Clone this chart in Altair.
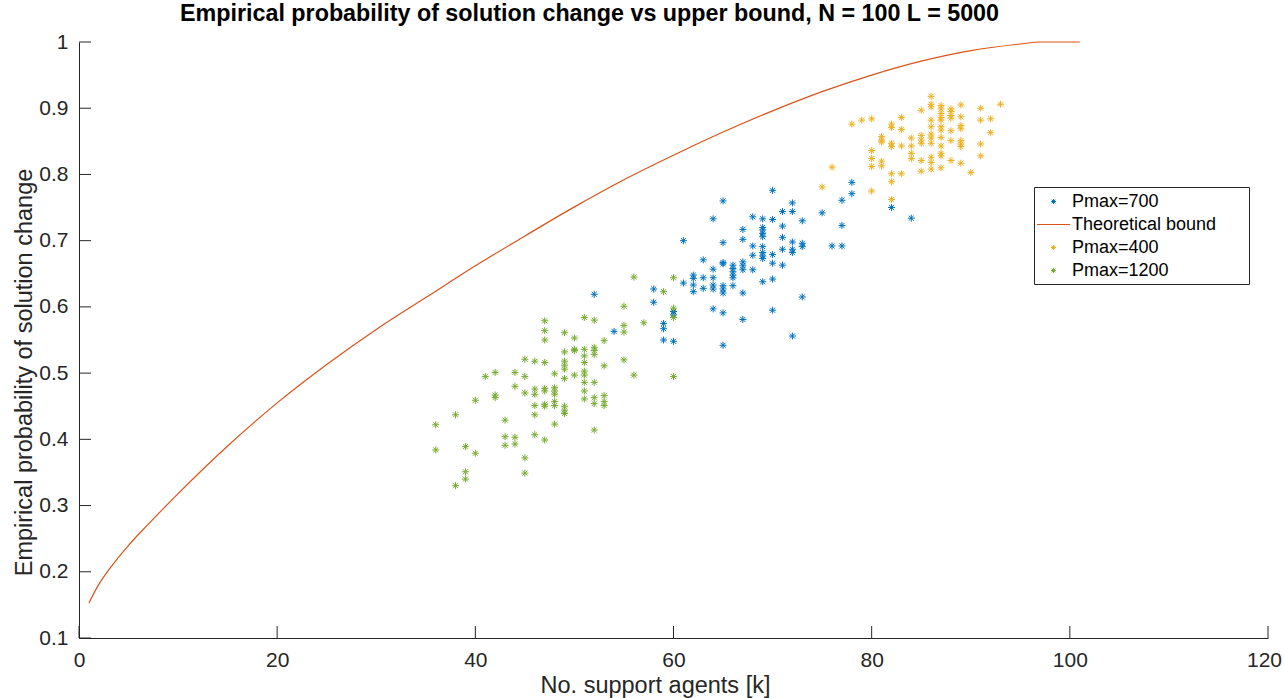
import altair as alt
import pandas as pd

# ---- data ----
series_order = ["Pmax=700", "Theoretical bound", "Pmax=400", "Pmax=1200"]
series_colors = ["#0072BD", "#D95319", "#EDB120", "#77AC30"]

# Pmax=700 (blue): x -> list of y
blue_pts = {
    52: [0.619], 54: [0.563], 58: [0.627, 0.607], 59: [0.575, 0.567, 0.550],
    60: [0.593, 0.588, 0.548], 61: [0.700, 0.636], 62: [0.648, 0.643, 0.633, 0.623],
    63: [0.671, 0.644, 0.628], 64: [0.733, 0.657, 0.644, 0.633, 0.627, 0.597],
    65: [0.760, 0.697, 0.667, 0.665, 0.632, 0.627, 0.621, 0.591, 0.542],
    66: [0.663, 0.658, 0.653, 0.648, 0.644, 0.632],
    67: [0.717, 0.702, 0.668, 0.662, 0.656, 0.621, 0.581],
    68: [0.736, 0.692, 0.678, 0.656],
    69: [0.733, 0.720, 0.716, 0.711, 0.706, 0.691, 0.682, 0.677, 0.673, 0.638],
    70: [0.776, 0.732, 0.679, 0.666, 0.642, 0.595],
    71: [0.744, 0.722, 0.705, 0.687, 0.663],
    72: [0.757, 0.744, 0.698, 0.687, 0.682, 0.556],
    73: [0.730, 0.696, 0.691, 0.615], 75: [0.742], 76: [0.692],
    77: [0.761, 0.723, 0.692], 78: [0.788, 0.771], 82: [0.750], 84: [0.734],
}

# Pmax=400 (yellow)
yellow_pts = {
    75: [0.781], 76: [0.811], 78: [0.876], 79: [0.882],
    80: [0.884, 0.836, 0.824, 0.812, 0.775],
    81: [0.857, 0.852, 0.849, 0.820, 0.813],
    82: [0.876, 0.871, 0.847, 0.842, 0.801, 0.789, 0.762],
    83: [0.886, 0.868, 0.843, 0.801], 84: [0.855, 0.843, 0.832, 0.824],
    85: [0.897, 0.859, 0.852, 0.847, 0.821, 0.805],
    86: [0.918, 0.906, 0.902, 0.882, 0.872, 0.861, 0.855, 0.847, 0.826, 0.818, 0.808],
    87: [0.904, 0.899, 0.892, 0.886, 0.882, 0.872, 0.867, 0.856, 0.843, 0.832, 0.828, 0.810],
    88: [0.899, 0.895, 0.889, 0.885, 0.866, 0.851, 0.821],
    89: [0.905, 0.887, 0.874, 0.869, 0.851, 0.846, 0.842, 0.817],
    90: [0.803], 91: [0.900, 0.882, 0.846, 0.828], 92: [0.884, 0.863], 93: [0.906],
}

# Pmax=1200 (green)
green_pts = {
    36: [0.422, 0.384], 38: [0.437, 0.330], 39: [0.389, 0.351, 0.340],
    40: [0.459, 0.379], 41: [0.495], 42: [0.501, 0.467, 0.463],
    43: [0.429, 0.404, 0.391], 44: [0.501, 0.480, 0.403, 0.393],
    45: [0.521, 0.495, 0.470, 0.372, 0.349],
    46: [0.518, 0.476, 0.468, 0.451, 0.437, 0.407],
    47: [0.579, 0.564, 0.550, 0.516, 0.477, 0.473, 0.453, 0.450, 0.399],
    48: [0.499, 0.478, 0.473, 0.468, 0.457, 0.451, 0.423],
    49: [0.561, 0.532, 0.518, 0.512, 0.506, 0.492, 0.450, 0.444, 0.439],
    50: [0.553, 0.536, 0.534, 0.497],
    51: [0.584, 0.536, 0.526, 0.516, 0.503, 0.497, 0.486, 0.473, 0.461],
    52: [0.580, 0.539, 0.534, 0.528, 0.486, 0.463, 0.454, 0.414],
    53: [0.549, 0.511, 0.466, 0.457, 0.451],
    55: [0.601, 0.572, 0.562, 0.520], 56: [0.645, 0.497], 57: [0.576],
    59: [0.623], 60: [0.644, 0.598, 0.584, 0.495],
}

# Theoretical bound curve
curve_x = [1, 2, 3, 4, 5, 7, 10, 15, 20, 25, 30, 35, 40, 45, 50, 55, 60, 65,
           70, 75, 80, 85, 90, 95, 97, 99, 101]
curve_y = [0.153, 0.181, 0.203, 0.222, 0.240, 0.272, 0.318, 0.390, 0.455, 0.513,
           0.566, 0.614, 0.662, 0.707, 0.751, 0.792, 0.829, 0.864, 0.896, 0.925,
           0.950, 0.971, 0.987, 0.997, 1.0, 1.0, 1.0]

x_ticks = [0, 20, 40, 60, 80, 100, 120]
y_ticks = [0.1, 0.2, 0.3, 0.4, 0.5, 0.6, 0.7, 0.8, 0.9, 1.0]

# ---- tables ----
rows = []
for name, pts in [("Pmax=700", blue_pts), ("Pmax=400", yellow_pts), ("Pmax=1200", green_pts)]:
    for xv, ys in pts.items():
        for yv in ys:
            rows.append({"k": xv, "p": yv, "series": name})
scatter_df = pd.DataFrame(rows)
curve_df = pd.DataFrame({"k": curve_x, "p": curve_y, "series": "Theoretical bound"})
xtick_df = pd.DataFrame({"k": x_ticks})
ytick_df = pd.DataFrame({"p": y_ticks})

W, H = 1189, 596
FONT = "Liberation Sans"
INK = "#262626"

ASTER = "M-0.25,0L0.25,0M0,-0.25L0,0.25M-0.18,-0.18L0.18,0.18M-0.18,0.18L0.18,-0.18"
LINE = "M-1.65,0L1.65,0"

xs = alt.Scale(domain=[0, 120], nice=False, zero=False)
ys = alt.Scale(domain=[0.1, 1.0], nice=False, zero=False)
color_scale = alt.Scale(domain=series_order, range=series_colors)
shape_scale = alt.Scale(domain=series_order, range=[ASTER, LINE, ASTER, ASTER])

x_axis = alt.Axis(values=x_ticks, format="d", title="No. support agents [k]",
                  labelPadding=11, ticks=False, tickSize=0,
                  labelFlush=False, labelOverlap=False,
                  labelOffset={"condition": {"test": "datum.value == 120", "value": -4}, "value": 0},
                  titleX=576, titleY=54, titleBaseline="alphabetic", titleAlign="center")
y_axis = alt.Axis(values=y_ticks, format="~r", title="Empirical probability of solution change",
                  labelPadding=11, ticks=False, tickSize=0,
                  labelFlush=False, labelOverlap=False,
                  titleX=-48, titleY=330, titleBaseline="alphabetic", titleAlign="center",
                  titleAngle=270)

legend = alt.Legend(
    title="\u00a0", titleOrient="right", titlePadding=29, titleFontSize=18,
    orient="none", legendX=955, legendY=145,
    fillColor="white", strokeColor=INK, padding=4,
    symbolSize=400, symbolStrokeWidth=1, symbolOffset=5, rowPadding=3,
    labelFontSize=18, labelFont=FONT, labelColor="#000000", labelOffset=8,
)

X = alt.X("k:Q", scale=xs, axis=x_axis)
Y = alt.Y("p:Q", scale=ys, axis=y_axis)
C = alt.Color("series:N", scale=color_scale, legend=legend)
S = alt.Shape("series:N", scale=shape_scale, legend=legend)

xticks = alt.Chart(xtick_df).mark_rule(color=INK, strokeWidth=1).encode(
    x=X, y=alt.value(H), y2=alt.value(H - 12),
)
yticks = alt.Chart(ytick_df).mark_rule(color=INK, strokeWidth=1).encode(
    y=Y, x=alt.value(0), x2=alt.value(12),
)

points = alt.Chart(scatter_df).mark_point(filled=False, opacity=1, strokeWidth=1, size=784).encode(
    x=X, y=Y, color=C, shape=S,
)

curve = alt.Chart(curve_df).mark_line(strokeWidth=1.2, interpolate="monotone").encode(
    x=X, y=Y, color=C,
)

chart = alt.layer(points, curve, xticks, yticks).properties(
    width=W, height=H,
    autosize=alt.AutoSizeParams(type="none"),
    padding={"left": 79, "top": 42, "right": 16, "bottom": 60},
    title=alt.TitleParams(
        "Empirical probability of solution change vs upper bound, N = 100 L = 5000",
        font=FONT, fontSize=23.3, fontWeight="bold", color="#000000",
        anchor="start", frame="group", dx=101, offset=5,
    ),
).configure_view(stroke=None).configure_axis(
    grid=False, domainColor=INK, domainWidth=1, labelColor=INK, titleColor=INK,
    labelFont=FONT, titleFont=FONT, labelFontSize=21, titleFontSize=23.5,
    titleFontWeight="normal",
)

chart.save("out.html", embed_options={"renderer": "svg", "actions": False})
